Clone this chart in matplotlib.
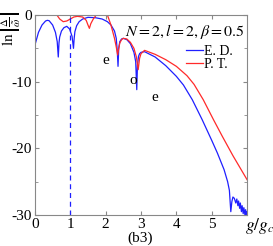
import matplotlib
matplotlib.use("Agg")
from matplotlib import pyplot as plt

plt.rcParams["font.family"] = ["Liberation Serif", "DejaVu Serif"]
plt.rcParams["mathtext.fontset"] = "stix"
plt.rcParams["axes.unicode_minus"] = False

# exact diagonalization (blue)
ed_g = [0.0, 0.1, 0.2, 0.3, 0.35, 0.4, 0.5, 0.58, 0.63, 0.66, 0.68, 0.7, 0.75, 0.82, 0.9,
        0.98, 1.05, 1.09, 1.11, 1.13, 1.18, 1.25, 1.35, 1.5, 1.7, 1.9, 2.05, 2.15, 2.25, 2.3,
        2.33, 2.35, 2.37, 2.4, 2.45, 2.5, 2.6, 2.7, 2.8, 2.85, 2.88, 2.9, 2.93, 2.96, 3.0,
        3.1, 3.4, 3.7, 4.0, 4.2, 4.45, 4.73, 5.0, 5.16, 5.35, 5.45, 5.5, 5.54, 5.57, 5.6,
        5.64, 5.68, 5.71, 5.74, 5.76, 5.79, 5.81, 5.84, 5.86, 5.89, 5.91, 5.94, 5.96, 5.98, 6.0]
ed_val = [-4.5, -2.6, -1.5, -0.9, -0.8, -0.85, -1.5, -2.6, -4.0, -6.3, -4.2, -3.3, -2.4, -1.9, -1.7,
          -2.1, -3.2, -5.0, -3.5, -2.5, -1.6, -1.0, -0.6, -0.35, -0.4, -0.6, -1.0, -1.5, -2.4, -3.5,
          -5.5, -7.7, -5.0, -4.0, -3.6, -3.5, -3.7, -4.3, -5.6, -7.0, -11.2, -7.5, -6.2, -5.8, -5.6,
          -5.5, -6.3, -7.6, -9.2, -10.5, -12.7, -15.7, -18.8, -20.7, -23.2, -25.0, -26.3, -29.5, -28.0, -27.3,
          -27.5, -28.2, -27.6, -28.6, -27.9, -29.0, -28.2, -29.5, -28.6, -29.8, -28.9, -30.0, -29.2, -30.0, -29.5]

# perturbation theory (red)
pt_g = [0.55, 0.62, 0.7, 0.8, 0.9, 1.0, 1.1, 1.2, 1.35, 1.45, 1.5, 1.54, 1.58, 1.65, 1.75,
        1.85, 1.95, 2.05, 2.15, 2.25, 2.3, 2.34, 2.36, 2.4, 2.45, 2.5, 2.6, 2.7, 2.8, 2.87,
        2.92, 2.96, 3.0, 3.1, 3.4, 3.7, 4.0, 4.3, 4.5, 4.76, 5.05, 5.3, 5.6, 6.0]
pt_val = [0.5, 0.0, -0.6, -1.0, -0.9, -0.6, -0.3, -0.2, -0.3, -0.8, -1.5, -2.0, -1.3, -0.6, 0.1,
          0.4, 0.3, 0.0, -1.5, -3.5, -4.8, -6.0, -5.3, -4.2, -3.7, -3.5, -3.6, -4.1, -5.0, -6.3,
          -8.2, -6.5, -5.8, -5.3, -5.9, -6.7, -7.7, -9.1, -10.4, -12.7, -15.7, -18.2, -21.1, -24.7]

parity_labels = ["e", "o", "e"]
parity_g = [2.0, 2.78, 3.4]
parity_val = [-6.8, -9.8, -12.3]

fig = plt.figure(figsize=(2.73, 2.46), dpi=100)
ax = fig.add_axes([0.128, 0.126, 0.777, 0.813])

ax.plot(ed_g, ed_val, color="#1f1fff", lw=0.9, label="E. D.")
ax.plot(pt_g, pt_val, color="#ff2a2a", lw=0.9, label="P. T.")
ax.axvline(1.0, color="#1f1fff", lw=0.9, ls=(0, (4, 3)))

for lab, gx, gy in zip(parity_labels, parity_g, parity_val):
    ax.text(gx, gy, lab, fontsize=11, ha="center", va="center")

ax.text(0.99, 0.965, r"$N=2, l=2, \beta=0.5$", transform=ax.transAxes,
        fontsize=11.5, ha="right", va="top")

ax.set_xlim(0, 6)
ax.set_ylim(-30, 0)
ax.set_xticks([0, 1, 2, 3, 4, 5])
ax.set_yticks([0, -10, -20, -30])
ax.set_yticks([-5, -15, -25], minor=True)
ax.tick_params(which="both", direction="in", top=True, right=True, labelsize=11,
               color="#888888", length=3, pad=2)
ax.tick_params(which="minor", length=2)
for sp in ax.spines.values():
    sp.set_color("#888888")

ax.legend(loc="upper right", bbox_to_anchor=(0.96, 0.88), frameon=False, fontsize=10,
          handlelength=1.2, handletextpad=0.1, labelspacing=0.05, borderaxespad=0)

ax.text(1.06, -0.055, r"$g/g_c$", transform=ax.transAxes, fontsize=12.5, ha="center", va="center")
ax.text(0.495, -0.115, "(b3)", transform=ax.transAxes, fontsize=11, ha="center", va="center")
fig.text(0.04, 0.885, r"$\ln\left|\frac{\Delta}{\tilde{\omega}}\right|$", rotation=90,
         fontsize=11, ha="center", va="center")

fig.savefig("out.png", dpi=100)
